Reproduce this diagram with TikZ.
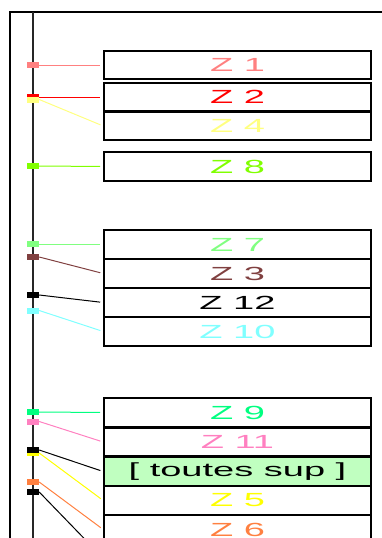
\documentclass[tikz,border=0pt]{standalone}
\usepackage{fontspec}
\setmainfont{Liberation Sans}
\definecolor{cz1}{HTML}{FF8080}
\definecolor{cz2}{HTML}{FF0000}
\definecolor{cz4}{HTML}{FFFF80}
\definecolor{cz8}{HTML}{80FF00}
\definecolor{cz7}{HTML}{80FF80}
\definecolor{cz3}{HTML}{804040}
\definecolor{cz12}{HTML}{000000}
\definecolor{cz10}{HTML}{80FFFF}
\definecolor{cz9}{HTML}{00FF80}
\definecolor{cz11}{HTML}{FF80C0}
\definecolor{cz5}{HTML}{FFFF00}
\definecolor{cz6}{HTML}{FF8040}
\definecolor{supfill}{HTML}{C0FFC0}
\newcommand{\wide}[1]{\scalebox{2}[1]{#1}}
\begin{document}
\begin{tikzpicture}[x=1pt,y=-1pt,
  zbox/.style={draw=black, line width=1.6pt, minimum width=267pt, minimum height=28.5pt,
    inner sep=0pt, font=\fontsize{19}{19}\selectfont},
  mk/.style={minimum width=12pt, minimum height=6pt, inner sep=0pt, draw=none},
  link/.style={line width=1pt, shorten >=3pt},
  frame/.style={line width=1.5pt, black}]
\useasboundingbox (0,0) rectangle (382,538);
\begin{scope}
\clip (0,0) rectangle (382,538);
% frame and axis
\coordinate (ftl) at (10,12);
\coordinate (fbl) at (10,545);
\coordinate (ftr) at (390,12);
\coordinate (at) at (33,12);
\coordinate (ab) at (33,545);
\draw[frame] (fbl) -- (ftl) -- (ftr);
\draw[line width=1.8pt, black!85] (at) -- (ab);
% boxes
\node[zbox, text=cz1] (z1) at (237.5,65) {\wide{Z 1}};
\node[zbox, text=cz2] (z2) at (237.5,97) {\wide{Z 2}};
\node[zbox, text=cz4] (z4) at (237.5,126) {\wide{Z 4}};
\node[zbox, text=cz8] (z8) at (237.5,166.5) {\wide{Z 8}};
\node[zbox, text=cz7] (z7) at (237.5,244.5) {\wide{Z 7}};
\node[zbox, text=cz3] (z3) at (237.5,273.5) {\wide{Z 3}};
\node[zbox, text=cz12] (z12) at (237.5,302.5) {\wide{Z 12}};
\node[zbox, text=cz10] (z10) at (237.5,331.5) {\wide{Z 10}};
\node[zbox, text=cz9] (z9) at (237.5,412.5) {\wide{Z 9}};
\node[zbox, text=cz11] (z11) at (237.5,442) {\wide{Z 11}};
\node[zbox, fill=supfill, text=black] (zs) at (237.5,471.5) {\wide{[ toutes sup ]}};
\node[zbox, text=cz5] (z5) at (237.5,500.5) {\wide{Z 5}};
\node[zbox, text=cz6] (z6) at (237.5,529.5) {\wide{Z 6}};
\coordinate (zx) at (104,559);
% markers
\node[mk, fill=cz1] (m1) at (33,65) {};
\node[mk, fill=cz2] (m2) at (33,97) {};
\node[mk, fill=cz4] (m4) at (33,99.5) {};
\node[mk, fill=cz8] (m8) at (33,166) {};
\node[mk, fill=cz7] (m7) at (33,244) {};
\node[mk, fill=cz3] (m3) at (33,257) {};
\node[mk, fill=cz12] (m12) at (33,295) {};
\node[mk, fill=cz10] (m10) at (33,310.5) {};
\node[mk, fill=cz9] (m9) at (33,412) {};
\node[mk, fill=cz11] (m11) at (33,421.5) {};
\node[mk, fill=cz5] (m5) at (33,453) {};
\node[mk, fill=black] (ms) at (33,450) {};
\node[mk, fill=cz6] (m6) at (33,482) {};
\node[mk, fill=black] (mx) at (33,492) {};
% connectors
\draw[link, cz1] (m1.east) -- (z1.west);
\draw[link, cz2] (m2.east) -- (z2.west);
\draw[link, cz4] (m4.east) -- (z4.west);
\draw[link, cz8] (m8.east) -- (z8.west);
\draw[link, cz7] (m7.east) -- (m7.east -| z7.west);
\draw[link, cz3] (m3.east) -- (z3.west);
\draw[link, cz12] (m12.east) -- (z12.west);
\draw[link, cz10] (m10.east) -- (z10.west);
\draw[link, cz9] (m9.east) -- (z9.west);
\draw[link, cz11] (m11.east) -- (z11.west);
\draw[link, cz5] (m5.east) -- (z5.west);
\draw[link, black] (ms.east) -- (zs.west);
\draw[link, cz6] (m6.east) -- (z6.west);
\draw[link, black] (mx.east) -- (zx);
\end{scope}
\end{tikzpicture}
\end{document}
